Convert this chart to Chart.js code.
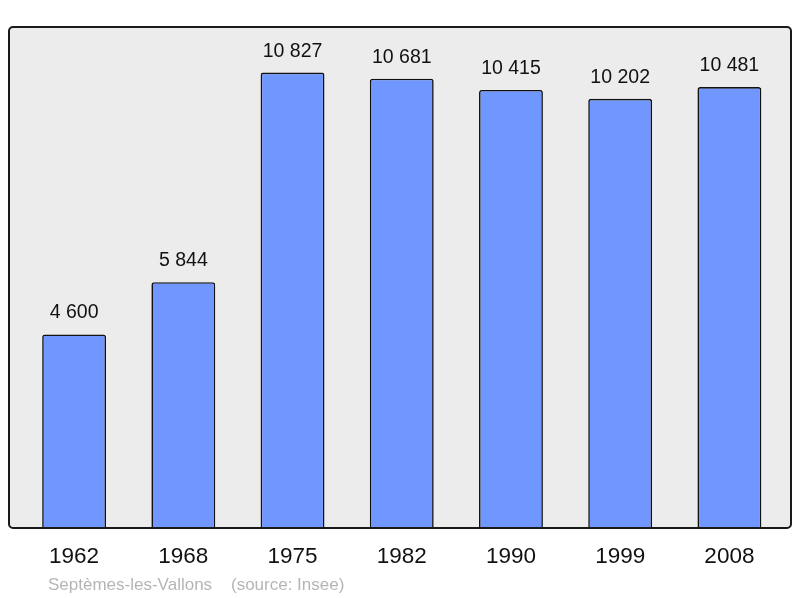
<!DOCTYPE html>
<html>
<head>
<meta charset="utf-8">
<script src="https://cdn.jsdelivr.net/npm/chart.js@4/dist/chart.umd.min.js"></script>
<style>
  html, body { margin: 0; padding: 0; background: #fff; }
  #wrap { width: 800px; height: 598px; }
</style>
</head>
<body>
<div id="wrap"><canvas id="pop" width="800" height="598"></canvas></div>
<script>
// data
const years = ['1962', '1968', '1975', '1982', '1990', '1999', '2008'];
const population = [4600, 5844, 10827, 10681, 10415, 10202, 10481];
const valueLabels = ['4 600', '5 844', '10 827', '10 681', '10 415', '10 202', '10 481'];
const caption = 'Septèmes-les-Vallons    (source: Insee)';

// grey box: a bit wider than the chart area
const boxLeft = 10.5, boxRight = 7;

const decor = {
    id: 'decor',
    beforeDatasetsDraw: (chart) => {
        const ctx = chart.ctx;
        const a = chart.chartArea;
        ctx.save();
        ctx.beginPath();
        ctx.roundRect(a.left - boxLeft, a.top, a.right - a.left + boxLeft + boxRight, a.bottom - a.top, 4);
        ctx.fillStyle = '#ececec';
        ctx.fill();
        ctx.restore();
    },
    afterDatasetsDraw: (chart) => {
        const ctx = chart.ctx;
        const a = chart.chartArea;
        ctx.save();
        ctx.beginPath();
        ctx.roundRect(a.left - boxLeft, a.top, a.right - a.left + boxLeft + boxRight, a.bottom - a.top, 4);
        ctx.lineWidth = 2;
        ctx.strokeStyle = '#1a1a1a';
        ctx.stroke();

        const meta = chart.getDatasetMeta(0);
        ctx.fillStyle = '#111';
        ctx.textAlign = 'center';
        ctx.textBaseline = 'alphabetic';
        ctx.font = '19.5px "Liberation Sans", Arial, sans-serif';
        meta.data.forEach((bar, i) => {
            ctx.fillText(valueLabels[i], bar.x, bar.y - 16);
        });

        ctx.font = '22.5px "Liberation Sans", Arial, sans-serif';
        ctx.textBaseline = 'middle';
        meta.data.forEach((bar, i) => {
            ctx.fillText(years[i], bar.x, a.bottom + 29);
        });

        ctx.textAlign = 'left';
        ctx.fillStyle = '#b5b5b5';
        ctx.font = '17px "Liberation Sans", Arial, sans-serif';
        ctx.fillText(caption, 48, a.bottom + 57);
        ctx.restore();
    }
};

new Chart(document.getElementById('pop').getContext('2d'), {
    type: 'bar',
    data: {
        labels: years,
        datasets: [{
            data: population,
            backgroundColor: '#7096ff',
            borderColor: '#111',
            borderWidth: 1.6,
            borderRadius: 2.5,
            borderSkipped: 'bottom',
            barPercentage: 0.585,
            categoryPercentage: 1
        }]
    },
    options: {
        responsive: false,
        animation: false,
        layout: { padding: { left: 19.5, right: 16, top: 27, bottom: 70 } },
        plugins: { legend: { display: false }, tooltip: { enabled: false } },
        scales: {
            x: { display: false },
            y: { display: false, min: 0, max: 11910 }
        }
    },
    plugins: [decor]
});
</script>
</body>
</html>
